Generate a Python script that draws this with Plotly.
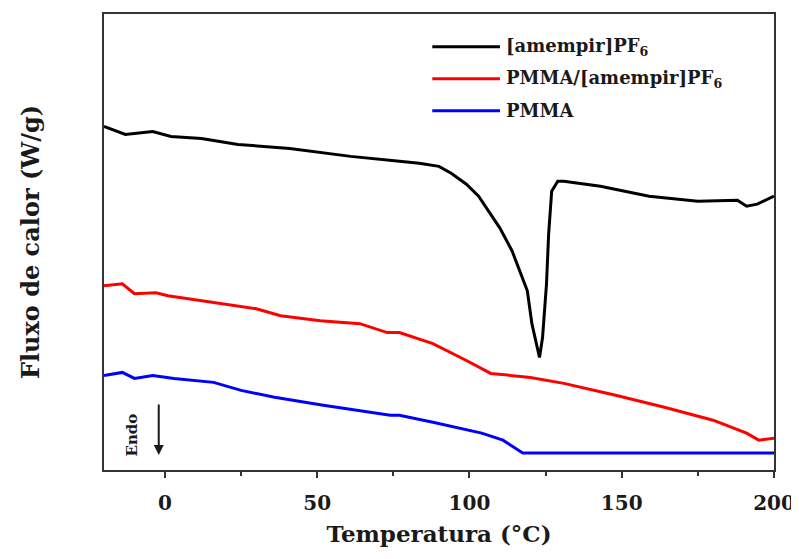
import plotly.graph_objects as go

# ---- data ----
temp_il = [-20, -13, -4, 2, 12, 24, 41, 61, 77, 83.5, 90, 94, 99, 103, 110, 114, 119, 120.5, 123,
           124, 125.3, 126, 127, 129, 131, 143, 159, 175, 188, 191, 194.5, 200]
flux_il = [3.45, 3.37, 3.40, 3.35, 3.33, 3.27, 3.23, 3.15, 3.10, 3.08, 3.05, 2.98, 2.87, 2.75, 2.43, 2.20, 1.80,
           1.47, 1.13, 1.33, 1.87, 2.37, 2.80, 2.90, 2.90, 2.85, 2.75, 2.70, 2.71, 2.65, 2.67, 2.75]

temp_blend = [-20, -14, -10, -3, 1, 8, 19, 30, 38, 51, 64, 73, 77, 88, 99, 107, 120, 131, 148, 164, 180, 191, 195, 200]
flux_blend = [1.85, 1.87, 1.77, 1.78, 1.75, 1.72, 1.67, 1.62, 1.55, 1.50, 1.47, 1.38, 1.38, 1.27, 1.10, 0.97,
              0.93, 0.87, 0.75, 0.63, 0.50, 0.37, 0.30, 0.32]

temp_pmma = [-20, -14, -10, -4, 3, 16, 25, 36, 52, 63, 74, 77, 88, 104, 111, 117.5, 200]
flux_pmma = [0.95, 0.98, 0.92, 0.95, 0.92, 0.88, 0.80, 0.73, 0.65, 0.60, 0.55, 0.55, 0.48, 0.37, 0.30, 0.17, 0.17]

series_names = ["[amempir]PF<sub>6</sub>", "PMMA/[amempir]PF<sub>6</sub>", "PMMA"]
series_colors = ["#000000", "#ff0000", "#0000ff"]
x_ticks = [0, 50, 100, 150, 200]

FONT = "DejaVu Serif"
TXT = "#1a1a1a"

fig = go.Figure()
for (xs, ys), name, col in zip([(temp_il, flux_il), (temp_blend, flux_blend), (temp_pmma, flux_pmma)],
                               series_names, series_colors):
    fig.add_trace(go.Scatter(x=xs, y=ys, mode="lines", name=name,
                             line=dict(color=col, width=3), showlegend=False))

# manual legend (long line samples like the reference)
leg_y = [0.928, 0.858, 0.788]
for name, col, yy in zip(series_names, series_colors, leg_y):
    fig.add_shape(type="line", xref="paper", yref="paper", x0=0.490, x1=0.591, y0=yy, y1=yy,
                  line=dict(color=col, width=3))
    fig.add_annotation(xref="paper", yref="paper", x=0.597, y=yy, text="<b>%s</b>" % name,
                       showarrow=False, xanchor="left", yanchor="middle",
                       font=dict(family=FONT, size=18, color=TXT))

# Endo marker
fig.add_annotation(xref="paper", yref="paper", x=0.042, y=0.076, text="<b>Endo</b>", textangle=-90,
                   showarrow=False, xanchor="center", yanchor="middle",
                   font=dict(family=FONT, size=15, color=TXT))
fig.add_annotation(xref="paper", yref="paper", axref="pixel", ayref="pixel",
                   x=0.0817, y=0.033, ax=0, ay=-52, text="", showarrow=True,
                   arrowhead=2, arrowsize=1, arrowwidth=2, arrowcolor=TXT)

fig.update_layout(
    width=791, height=551,
    margin=dict(l=96, r=22, t=4, b=89),
    paper_bgcolor="white", plot_bgcolor="white",
    font=dict(family=FONT, color=TXT),
)
fig.update_xaxes(
    range=[-20, 200], tickvals=x_ticks, ticktext=["<b>%d</b>" % v for v in x_ticks],
    ticks="outside", ticklen=6, tickwidth=2, tickcolor="#333", ticklabelstandoff=8,
    minor=dict(tickvals=[25, 75, 125, 175], ticks="outside", ticklen=4, tickwidth=2, tickcolor="#333"),
    showline=True, linecolor="#333", linewidth=2, mirror=True, showgrid=False, zeroline=False,
    tickfont=dict(family=FONT, size=20, color=TXT),
    title=dict(text="<b>Temperatura (°C)</b>", font=dict(family=FONT, size=23, color=TXT), standoff=12),
)
fig.update_yaxes(
    range=[0, 4.58], showticklabels=False, ticks="",
    showline=True, linecolor="#333", linewidth=2, mirror=True, showgrid=False, zeroline=False,
    title=dict(text="<b>Fluxo de calor (W/g)</b>", font=dict(family=FONT, size=24, color=TXT), standoff=56),
)

fig.write_html("out.html")
